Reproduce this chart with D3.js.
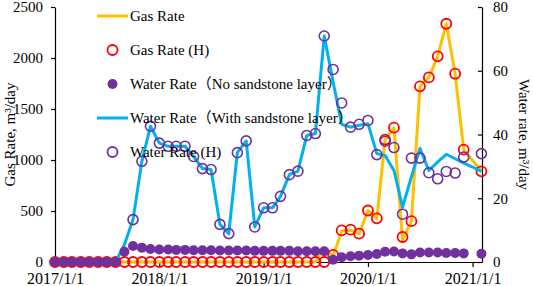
<!DOCTYPE html>
<html lang="en">
<head>
    <meta charset="UTF-8">
    <title>Gas and water rate</title>
    <script src="https://d3js.org/d3.v7.min.js"></script>
    <style>
        body { margin: 0; background: #fff; }
        text { font-family: "Liberation Serif", "Times New Roman", "Noto Sans CJK SC", serif; fill: #000; }
    </style>
</head>
<body>
    <div id="chart"></div>
    <script>
        // monthly dates, 2017/1 .. 2021/2
        const months = [
            "2017-01-01", "2017-02-01", "2017-03-01", "2017-04-01", "2017-05-01", "2017-06-01",
            "2017-07-01", "2017-08-01", "2017-09-01", "2017-10-01", "2017-11-01", "2017-12-01",
            "2018-01-01", "2018-02-01", "2018-03-01", "2018-04-01", "2018-05-01", "2018-06-01",
            "2018-07-01", "2018-08-01", "2018-09-01", "2018-10-01", "2018-11-01", "2018-12-01",
            "2019-01-01", "2019-02-01", "2019-03-01", "2019-04-01", "2019-05-01", "2019-06-01",
            "2019-07-01", "2019-08-01", "2019-09-01", "2019-10-01", "2019-11-01", "2019-12-01",
            "2020-01-01", "2020-02-01", "2020-03-01", "2020-04-01", "2020-05-01", "2020-06-01",
            "2020-07-01", "2020-08-01", "2020-09-01", "2020-10-01", "2020-11-01", "2020-12-01",
            "2021-01-01", "2021-02-01"
        ];

        // Gas rate (left axis, m3/day)
        const gasRate = [
            0, 0, 0, 0, 0, 0, 0, 0, 0, 0, 0, 0,
            0, 0, 0, 0, 0, 0, 0, 0, 0, 0, 0, 0,
            0, 0, 0, 0, 0, 0, 0, 140, 55, 305, 312, 275,
            505, 425, 1200, 1317, 215, 400, 1722, 1810, 2016, 2336, 1846, 1101,
            null, 889
        ];
        const gasRateH = [
            0, 0, 0, 0, 0, 0, 0, 0, 0, 0, 0, 0,
            0, 0, 0, 0, 0, 0, 0, 0, 0, 0, 0, 0,
            0, 0, 0, 0, 0, 0, 0, 0, 70, 310, 317, 278,
            505, 428, 1200, 1317, 245, 400, 1722, 1810, 2016, 2336, 1846, 1101,
            null, 889
        ];

        // Water rate (right axis, m3/day)
        const waterNoSand = [
            0, 0, 0, 0, 0, 0, 0, 0, 3.2, 5.0, 4.5, 4.1,
            3.9, 3.9, 3.8, 3.8, 3.7, 3.7, 3.7, 3.6, 3.6, 3.6, 3.6, 3.5,
            3.5, 3.5, 3.5, 3.5, 3.4, 3.4, 3.4, 3.4, 0.7, 1.5, 1.8, 2.0,
            2.2, 2.5, 3.2, 3.3, 2.7, 2.4, 3.0, 3.0, 3.0, 2.8, 2.8, 2.7,
            null, 2.6
        ];
        const waterWithSand = [
            null, null, null, null, null, null, null, 0, 5.5, 13.3, 31.6, 42.6,
            37.3, 36.3, 36.3, 36.3, 33.1, 29.3, 29.0, 11.8, 8.9, 34.3, 38.0, 11.0,
            17.0, 17.0, 20.6, 27.4, 28.5, 39.7, 40.3, 70.9, 56.5, 43.2, 42.3, 42.9,
            43.4, 34.0, 33.4, 28.7, 17.2, 26.7, 35.6, 28.7, 31.4, 33.8, 32.4, 31.0,
            29.8, 28.4
        ];
        const waterH = [
            null, null, null, null, null, null, null, null, null, 13.3, 31.6, 42.6,
            37.3, 36.3, 36.3, 36.3, 33.1, 29.3, 29.0, 11.8, 8.9, 34.3, 38.0, 11.0,
            17.0, 17.0, 20.6, 27.4, 28.5, 39.7, 40.3, 70.9, 60.4, 49.9, 42.3, 43.2,
            44.4, 33.7, 37.9, 35.9, 15.0, 32.6, 32.6, 28.0, 26.1, 28.4, 27.9, 32.9,
            null, 34.0
        ];

        const gasTicks = [0, 500, 1000, 1500, 2000, 2500];
        const waterTicks = [0, 20, 40, 60, 80];
        const yearTicks = ["2017-01-01", "2018-01-01", "2019-01-01", "2020-01-01", "2021-01-01"];

        const legendItems = [
            { label: "Gas Rate", type: "line", color: "#FFC000" },
            { label: "Gas Rate (H)", type: "ring", color: "#FF0000" },
            { label: "Water Rate（No sandstone layer）", type: "dot", color: "#7030A0" },
            { label: "Water Rate（With sandstone layer）", type: "line", color: "#00B0F0" },
            { label: "Water Rate (H)", type: "ring", color: "#7030A0" }
        ];

        const width = 533, height = 286;
        const margin = { top: 7, right: 51, bottom: 24, left: 55 };
        const innerW = width - margin.left - margin.right;
        const innerH = height - margin.top - margin.bottom;

        const parse = d3.timeParse("%Y-%m-%d");
        const dates = months.map(parse);

        const svg = d3.select("#chart")
            .append("svg")
            .attr("width", width)
            .attr("height", height);

        const g = svg.append("g")
            .attr("transform", "translate(" + margin.left + "," + margin.top + ")");

        const x = d3.scaleTime()
            .domain([parse("2017-01-01"), parse("2021-02-03")])
            .range([0, innerW]);
        const yGas = d3.scaleLinear().domain([0, 2500]).range([innerH, 0]);
        const yWater = d3.scaleLinear().domain([0, 80]).range([innerH, 0]);

        function series(values) {
            return values.map((v, i) => ({ date: dates[i], value: v })).filter(d => d.value !== null);
        }

        // axes
        const xAxis = g.append("g")
            .attr("transform", "translate(0," + innerH + ")")
            .call(d3.axisBottom(x)
                .tickValues(yearTicks.map(parse))
                .tickFormat(d3.timeFormat("%Y/%-m/%-d"))
                .tickSize(5)
                .tickPadding(6)
                .tickSizeOuter(0));

        const leftAxis = g.append("g")
            .call(d3.axisLeft(yGas).tickValues(gasTicks).tickFormat(d3.format("d")).tickSize(4).tickSizeOuter(0));

        const rightAxis = g.append("g")
            .attr("transform", "translate(" + innerW + ",0)")
            .call(d3.axisRight(yWater).tickValues(waterTicks).tickSize(-4).tickSizeOuter(0).tickPadding(11));

        [xAxis, leftAxis, rightAxis].forEach(a => {
            a.select(".domain").attr("stroke", "#000").attr("stroke-width", 1.2);
            a.selectAll(".tick line").attr("stroke", "#000").attr("stroke-width", 1.2);
            a.selectAll(".tick text").style("font-size", "15px").attr("fill", "#000");
        });
        xAxis.selectAll(".tick text").style("font-size", "16px");
        leftAxis.selectAll(".tick text").attr("x", -12);

        // axis titles
        svg.append("text")
            .attr("transform", "translate(15," + (margin.top + innerH / 2) + ") rotate(-90)")
            .attr("text-anchor", "middle")
            .style("font-size", "15px")
            .text("Gas Rate, m³/day");

        svg.append("text")
            .attr("transform", "translate(519," + (margin.top + innerH / 2) + ") rotate(90)")
            .attr("text-anchor", "middle")
            .style("font-size", "15px")
            .text("Water rate, m³/day");

        // gas rate line
        g.append("path")
            .datum(series(gasRate))
            .attr("fill", "none")
            .attr("stroke", "#FFC000")
            .attr("stroke-width", 3)
            .attr("stroke-linejoin", "round")
            .attr("d", d3.line().x(d => x(d.date)).y(d => yGas(d.value)));

        // gas rate (H) rings
        g.selectAll(".gasH")
            .data(series(gasRateH))
            .enter().append("circle")
            .attr("cx", d => x(d.date))
            .attr("cy", d => yGas(d.value))
            .attr("r", 5)
            .attr("fill", "none")
            .attr("stroke", "#FF0000")
            .attr("stroke-width", 1.8);

        // water with sandstone line
        g.append("path")
            .datum(series(waterWithSand))
            .attr("fill", "none")
            .attr("stroke", "#00B0F0")
            .attr("stroke-width", 3)
            .attr("stroke-linejoin", "round")
            .attr("d", d3.line().x(d => x(d.date)).y(d => yWater(d.value)));

        // water no sandstone dots
        g.selectAll(".waterNo")
            .data(series(waterNoSand))
            .enter().append("circle")
            .attr("cx", d => x(d.date))
            .attr("cy", d => yWater(d.value))
            .attr("r", 5)
            .attr("fill", "#7030A0");

        // water (H) rings
        g.selectAll(".waterH")
            .data(series(waterH))
            .enter().append("circle")
            .attr("cx", d => x(d.date))
            .attr("cy", d => yWater(d.value))
            .attr("r", 5)
            .attr("fill", "none")
            .attr("stroke", "#7030A0")
            .attr("stroke-width", 1.6);

        // legend
        const legend = svg.append("g").attr("transform", "translate(97,16)");
        legendItems.forEach((item, i) => {
            const row = legend.append("g").attr("transform", "translate(0," + i * 34 + ")");
            if (item.type === "line") {
                row.append("line").attr("x1", 0).attr("x2", 31).attr("y1", 0).attr("y2", 0)
                    .attr("stroke", item.color).attr("stroke-width", 3);
            } else if (item.type === "ring") {
                row.append("circle").attr("cx", 15.5).attr("cy", 0).attr("r", 5)
                    .attr("fill", "none").attr("stroke", item.color).attr("stroke-width", 1.8);
            } else {
                row.append("circle").attr("cx", 15.5).attr("cy", 0).attr("r", 5)
                    .attr("fill", item.color);
            }
            row.append("text")
                .attr("x", 33)
                .attr("y", 5)
                .style("font-size", "15px")
                .text(item.label);
        });
    </script>
</body>
</html>
